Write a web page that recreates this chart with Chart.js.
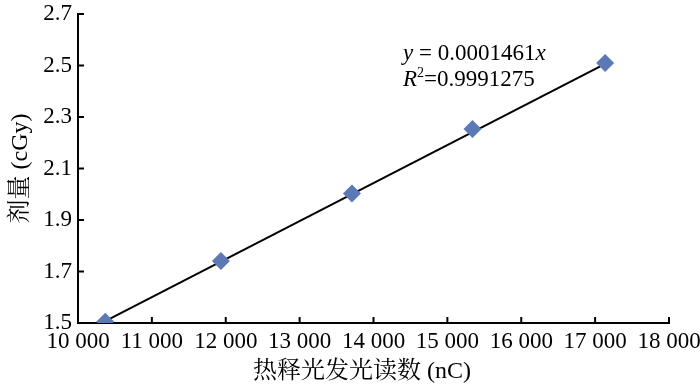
<!DOCTYPE html>
<html>
<head>
<meta charset="utf-8">
<script src="https://cdn.jsdelivr.net/npm/chart.js@4"></script>
<style>
  html, body { margin: 0; padding: 0; background: #fff; }
  #wrap { width: 700px; height: 387px; }
</style>
</head>
<body>
<div id="wrap"><canvas id="doseChart"></canvas></div>
<script>
// readings (nC) and dose (cGy)
const readings = [10369, 11935, 13708, 15340, 17135];
const doses = [1.505, 1.741, 2.003, 2.253, 2.510];
// trendline endpoints, y = 0.0001461x
const trendX = [10369, 17135];
const trendY = [1.507, 2.506];
const xTicks = [10000, 11000, 12000, 13000, 14000, 15000, 16000, 17000, 18000];
const yTicks = [1.5, 1.7, 1.9, 2.1, 2.3, 2.5, 2.7];

const serif = "'Times New Roman', 'Liberation Serif', 'Noto Serif CJK SC', 'Noto Sans CJK SC', serif";

const points = readings.map((x, i) => ({ x: x, y: doses[i] }));
const trend = trendX.map((x, i) => ({ x: x, y: trendY[i] }));

// small ticks pointing into the plot, like the original
const innerTicks = {
    id: 'innerTicks',
    afterDraw(chart) {
        const ctx = chart.ctx;
        const area = chart.chartArea;
        const xs = chart.scales.x, ys = chart.scales.y;
        ctx.save();
        ctx.strokeStyle = '#000';
        ctx.lineWidth = 2;
        xTicks.forEach(v => {
            const px = xs.getPixelForValue(v);
            ctx.beginPath();
            ctx.moveTo(px, area.bottom);
            ctx.lineTo(px, area.bottom - 6);
            ctx.stroke();
        });
        yTicks.forEach(v => {
            const py = ys.getPixelForValue(v);
            ctx.beginPath();
            ctx.moveTo(area.left, py);
            ctx.lineTo(area.left + 6, py);
            ctx.stroke();
        });
        ctx.restore();
    }
};

// fit equation and x axis title
const labels = {
    id: 'labels',
    afterDraw(chart) {
        const ctx = chart.ctx;
        ctx.save();
        ctx.fillStyle = '#000';
        ctx.textBaseline = 'alphabetic';
        ctx.textAlign = 'left';
        let x = 403;
        ctx.font = "italic 23px " + serif;
        ctx.fillText('y', x, 60);
        x += ctx.measureText('y').width;
        ctx.font = "23px " + serif;
        ctx.fillText(' = 0.0001461', x, 60);
        x += ctx.measureText(' = 0.0001461').width;
        ctx.font = "italic 23px " + serif;
        ctx.fillText('x', x, 60);

        x = 403;
        ctx.font = "italic 23px " + serif;
        ctx.fillText('R', x, 86);
        x += ctx.measureText('R').width;
        ctx.font = "14px " + serif;
        ctx.fillText('2', x, 77);
        x += ctx.measureText('2').width;
        ctx.font = "23px " + serif;
        ctx.fillText('=0.9991275', x, 86);

        ctx.textAlign = 'center';
        ctx.textBaseline = 'middle';
        ctx.font = "24px " + serif;
        ctx.fillText('热释光发光读数 (nC)', 362, 372);
        ctx.restore();
    }
};

const ctx = document.getElementById('doseChart').getContext('2d');
new Chart(ctx, {
    type: 'scatter',
    data: {
        datasets: [{
            data: points,
            pointStyle: 'rectRot',
            pointRadius: 9,
            pointHoverRadius: 9,
            backgroundColor: '#5a79b5',
            borderColor: '#5a79b5',
            borderWidth: 0,
            order: 1
        }, {
            data: trend,
            showLine: true,
            pointRadius: 0,
            borderColor: '#000',
            borderWidth: 2,
            order: 2
        }]
    },
    options: {
        responsive: true,
        maintainAspectRatio: false,
        animation: false,
        layout: { padding: { left: 6, right: 31, top: 14, bottom: 0 } },
        plugins: {
            legend: { display: false },
            tooltip: { enabled: false }
        },
        scales: {
            x: {
                type: 'linear',
                min: 10000,
                max: 18000,
                afterBuildTicks(scale) { scale.ticks = xTicks.map(v => ({ value: v })); },
                afterFit(scale) {
                    scale.height = 64;
                    scale.paddingLeft = 0;
                    scale.paddingRight = 0;
                },
                grid: { drawOnChartArea: false, drawTicks: false },
                border: { color: '#000', width: 2 },
                ticks: {
                    padding: 5,
                    color: '#000',
                    font: { family: serif, size: 23 },
                    callback: v => String(v).replace(/\B(?=(\d{3})+(?!\d))/g, ' ')
                }
            },
            y: {
                min: 1.5,
                max: 2.7,
                afterBuildTicks(scale) { scale.ticks = yTicks.map(v => ({ value: v })); },
                afterFit(scale) {
                    scale.width = 72;
                    scale.paddingTop = 0;
                    scale.paddingBottom = 0;
                },
                grid: { drawOnChartArea: false, drawTicks: false },
                border: { color: '#000', width: 2 },
                ticks: {
                    padding: 6,
                    color: '#000',
                    font: { family: serif, size: 23 },
                    callback: v => v.toFixed(1)
                },
                title: {
                    display: true,
                    text: '剂量 (cGy)',
                    color: '#000',
                    font: { family: serif, size: 24 },
                    padding: { top: 0, bottom: 0 }
                }
            }
        }
    },
    plugins: [innerTicks, labels]
});
</script>
</body>
</html>
